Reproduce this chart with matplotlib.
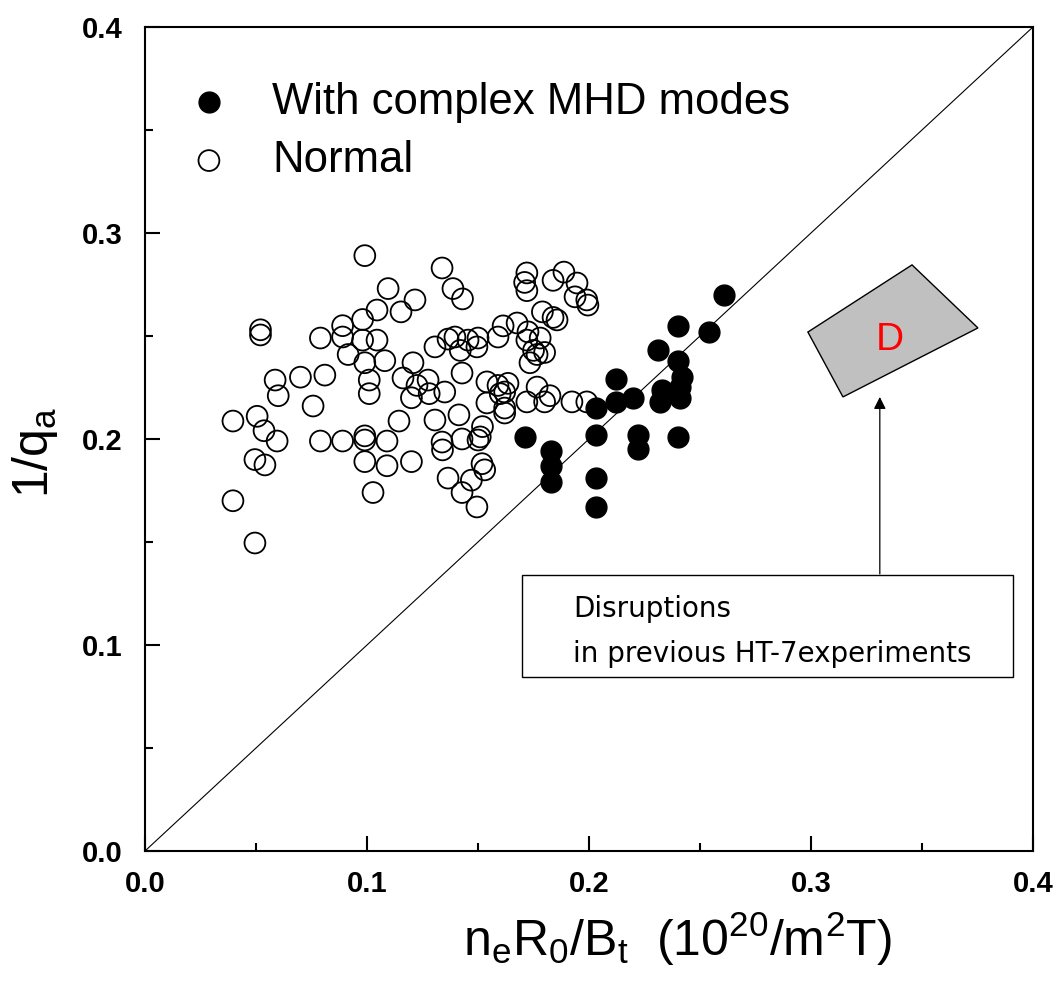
import matplotlib
matplotlib.use("Agg")
import matplotlib.pyplot as plt
from matplotlib.patches import Polygon, Rectangle

plt.rcParams['font.family'] = ['Liberation Sans', 'DejaVu Sans']
plt.rcParams['mathtext.fontset'] = 'custom'
plt.rcParams['mathtext.rm'] = 'Liberation Sans'
plt.rcParams['mathtext.it'] = 'Liberation Sans'

# discharges with complex MHD modes (n_e R0 / Bt, 1/q_a)
mhd_x = [0.261, 0.240, 0.254, 0.231, 0.240, 0.242, 0.241, 0.233, 0.232, 0.241,
         0.212, 0.220, 0.212, 0.203, 0.203, 0.171, 0.183, 0.183, 0.183, 0.222,
         0.222, 0.240, 0.203, 0.203]
mhd_y = [0.270, 0.255, 0.252, 0.243, 0.238, 0.230, 0.225, 0.224, 0.218, 0.220,
         0.229, 0.220, 0.218, 0.215, 0.202, 0.201, 0.194, 0.187, 0.179, 0.202,
         0.195, 0.201, 0.181, 0.167]

# normal discharges
normal_x = [0.099, 0.1095, 0.052, 0.052, 0.1045, 0.098, 0.089, 0.079, 0.089, 0.098,
            0.1045, 0.0915, 0.099, 0.108, 0.0586, 0.070, 0.081, 0.101, 0.101, 0.060,
            0.0757, 0.0396, 0.0505, 0.0536, 0.0595, 0.079, 0.089, 0.099, 0.099, 0.109,
            0.0495, 0.054, 0.099, 0.109, 0.1027, 0.0396, 0.0495, 0.1338, 0.1387, 0.143,
            0.1216, 0.1153, 0.172, 0.171, 0.172, 0.179, 0.1306, 0.1365, 0.1396, 0.142,
            0.1455, 0.150, 0.1495, 0.1613, 0.1676, 0.1725, 0.172, 0.175, 0.1734, 0.1207,
            0.1162, 0.1275, 0.1225, 0.1428, 0.154, 0.1635, 0.1766, 0.128, 0.135, 0.160,
            0.120, 0.154, 0.162, 0.172, 0.1144, 0.1306, 0.1414, 0.1338, 0.134, 0.1428,
            0.151, 0.150, 0.152, 0.120, 0.1518, 0.153, 0.1365, 0.147, 0.1428, 0.1495,
            0.1838, 0.1887, 0.1946, 0.1937, 0.199, 0.1995, 0.1838, 0.1856, 0.159, 0.178,
            0.180, 0.1766, 0.159, 0.162, 0.162, 0.1824, 0.180, 0.1923, 0.199]
normal_y = [0.289, 0.273, 0.253, 0.2505, 0.2626, 0.258, 0.255, 0.249, 0.2495, 0.248,
            0.248, 0.241, 0.237, 0.238, 0.2286, 0.230, 0.231, 0.2286, 0.222, 0.221,
            0.216, 0.2087, 0.211, 0.204, 0.199, 0.199, 0.199, 0.2015, 0.1995, 0.199,
            0.190, 0.1874, 0.189, 0.187, 0.174, 0.170, 0.1495, 0.283, 0.273, 0.268,
            0.2675, 0.2617, 0.2806, 0.276, 0.272, 0.2617, 0.2447, 0.2485, 0.2495, 0.243,
            0.248, 0.249, 0.2447, 0.2549, 0.2563, 0.252, 0.248, 0.243, 0.237, 0.237,
            0.2296, 0.2286, 0.226, 0.232, 0.2277, 0.227, 0.2252, 0.222, 0.2228, 0.222,
            0.220, 0.2175, 0.2126, 0.218, 0.2087, 0.2092, 0.2117, 0.1985, 0.1947, 0.200,
            0.201, 0.1995, 0.206, 0.189, 0.188, 0.185, 0.181, 0.180, 0.174, 0.167,
            0.277, 0.281, 0.2757, 0.269, 0.2675, 0.265, 0.259, 0.2578, 0.2495, 0.249,
            0.242, 0.241, 0.226, 0.2228, 0.215, 0.221, 0.218, 0.218, 0.218]

# disruption region "D" from earlier HT-7 shots
region_x = [0.2986, 0.3455, 0.3752, 0.3144]
region_y = [0.2519, 0.2845, 0.2539, 0.2204]

fig = plt.figure(figsize=(10.61, 9.88), dpi=100)
ax = fig.add_axes([0.1367, 0.1387, 0.8369, 0.834])

ax.plot([0, 0.4], [0, 0.4], color='black', lw=0.8, zorder=1)

ax.scatter(normal_x, normal_y, s=225, facecolors='none', edgecolors='black',
           linewidths=1.3, label='Normal', zorder=3)
ax.scatter(mhd_x, mhd_y, s=225, facecolors='black', edgecolors='black',
           linewidths=1.0, label='With complex MHD modes', zorder=4)

poly = Polygon(list(zip(region_x, region_y)), closed=True, facecolor='#c0c0c0',
               edgecolor='black', lw=1.0, zorder=2)
ax.add_patch(poly)
ax.text(0.3356, 0.248, 'D', color='red', fontsize=28, ha='center', va='center', zorder=5)

ax.annotate('', xy=(0.331, 0.2204), xytext=(0.331, 0.1345),
            arrowprops=dict(arrowstyle='-|>', color='black', lw=0.9,
                            mutation_scale=18, shrinkA=0, shrinkB=0))

ax.add_patch(Rectangle((0.1698, 0.0845), 0.2212, 0.0495, facecolor='white',
                       edgecolor='black', lw=1.0, zorder=2))
ax.text(0.1928, 0.1175, 'Disruptions', fontsize=20, family='DejaVu Sans',
        va='center', ha='left', zorder=5)
ax.text(0.1928, 0.0955, 'in previous HT-7experiments', fontsize=20,
        family='DejaVu Sans', va='center', ha='left', zorder=5)

handles, labels = ax.get_legend_handles_labels()
ax.legend(handles[::-1], labels[::-1], loc='upper left', bbox_to_anchor=(0.0276, 0.955),
          frameon=False, fontsize=31.5, handletextpad=0.94, labelspacing=0.40,
          handlelength=1.0, borderaxespad=0)

ax.set_xlim(0, 0.4)
ax.set_ylim(0, 0.4)
ax.set_xticks([0.0, 0.1, 0.2, 0.3, 0.4])
ax.set_yticks([0.0, 0.1, 0.2, 0.3, 0.4])
ax.set_xticks([0.05, 0.15, 0.25, 0.35], minor=True)
ax.set_yticks([0.05, 0.15, 0.25, 0.35], minor=True)
ax.tick_params(which='both', direction='in', top=False, right=False, width=1.5)
ax.tick_params(which='major', length=11)
ax.tick_params(which='minor', length=6)
ax.tick_params(axis='x', pad=14, labelsize=21)
ax.tick_params(axis='y', pad=16, labelsize=21)
for lab in ax.get_xticklabels() + ax.get_yticklabels():
    lab.set_fontweight('bold')
for sp in ax.spines.values():
    sp.set_linewidth(1.5)

ax.set_xlabel(r'n$_\mathrm{e}$R$_\mathrm{0}$/B$_\mathrm{t}$  (10$^{20}$/m$^2$T)',
              fontsize=36)
ax.xaxis.set_label_coords(0.600, -0.072)
ax.set_ylabel(r'1/q$_\mathrm{a}$', fontsize=36)
ax.yaxis.set_label_coords(-0.096, 0.484)

fig.savefig('out.png', dpi=100)
